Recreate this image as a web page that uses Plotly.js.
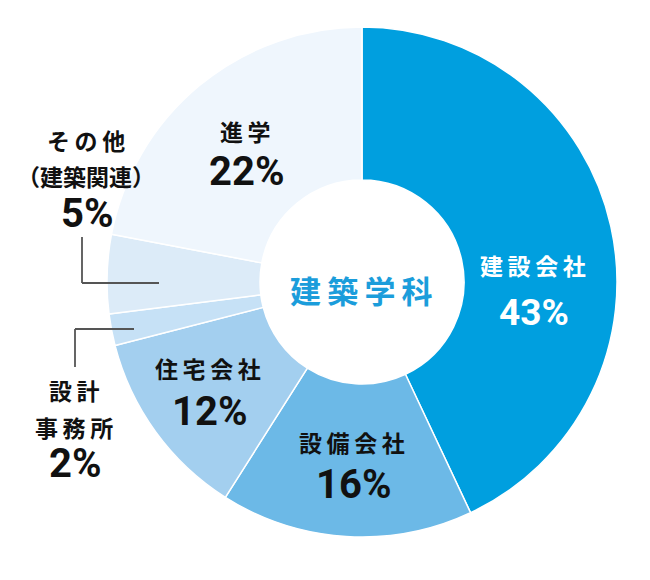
<!DOCTYPE html>
<html>
<head>
<meta charset="utf-8">
<script src="https://cdn.plot.ly/plotly-3.0.1.min.js"></script>
<style>
html,body{margin:0;padding:0;background:#fff;}
#chart{width:650px;height:580px;}
</style>
</head>
<body>
<div id="chart"></div>
<script>
// ---- data ----
const categories = ["建設会社", "設備会社", "住宅会社", "設計事務所", "その他（建築関連）", "進学"];
const values = [43, 16, 12, 2, 5, 22];
const labelLines = [["建設会社"], ["設備会社"], ["住宅会社"], ["設計", "事務所"], ["その他", "（建築関連）"], ["進学"]];
const sliceColors = ["#009fdf", "#6cb9e7", "#a3cfef", "#c6e1f6", "#dcebf8", "#eff6fd"];
const centerTitle = "建築学科";

// ---- layout helpers ----
const W = 650, H = 580;
const P = (px, py) => ({x: px / W, y: 1 - py / H});
const CJK = "'Noto Sans CJK JP', 'Noto Sans', sans-serif";
const NUM = "Roboto, 'Liberation Sans', sans-serif";
const spaced = s => /[（）]/.test(s) ? s : s.split("").join("\u2009");

// label positions (pixel centres)
const labelPos = [
  {x: 533, lines: [265], pct: 312, white: true},
  {x: 352, lines: [442], pct: 485},
  {x: 208, lines: [368], pct: 411},
  {x: 74,  lines: [390, 427], pct: 463},
  {x: 86,  lines: [140, 176], pct: 213},
  {x: 245, lines: [131], pct: 172}
];

const annotations = [];
categories.forEach((c, i) => {
  const pos = labelPos[i];
  const col = pos.white ? "#ffffff" : "#111111";
  labelLines[i].forEach((ln, j) => {
    const p = P(pos.x, pos.lines[j]);
    annotations.push({
      x: p.x, y: p.y, xref: "paper", yref: "paper", showarrow: false,
      xanchor: "center", yanchor: "middle",
      text: "<b>" + spaced(ln) + "</b>",
      font: {family: CJK, size: 23, color: col}
    });
  });
  const pp = P(pos.x + 1, pos.pct);
  annotations.push({
    x: pp.x, y: pp.y, xref: "paper", yref: "paper", showarrow: false,
    xanchor: "center", yanchor: "middle",
    text: "<b>" + values[i] + "%</b>",
    font: {family: NUM, size: pos.white ? 37 : 40, color: col}
  });
});
const cp = P(361, 289);
annotations.push({
  x: cp.x, y: cp.y, xref: "paper", yref: "paper", showarrow: false,
  xanchor: "center", yanchor: "middle",
  text: "<b>" + spaced(centerTitle) + "</b>",
  font: {family: CJK, size: 31, color: "#1b9ddb"}
});

// leader lines
const lineStyle = {color: "#555555", width: 1.8};
const seg = (a, b, c, d) => {
  const p1 = P(a, b), p2 = P(c, d);
  return {type: "line", xref: "paper", yref: "paper", x0: p1.x, y0: p1.y, x1: p2.x, y1: p2.y, line: lineStyle, layer: "above"};
};
const shapes = [
  seg(82, 237, 82, 283), seg(82, 283, 159, 283),
  seg(75, 329, 75, 367), seg(75, 329, 134, 329)
];

// pie geometry: centre (362,282), radius 255
const cx = 362, cy = 282, R = 255;
const trace = {
  type: "pie",
  labels: categories,
  values: values,
  sort: false,
  direction: "clockwise",
  rotation: 0,
  hole: 0.4,
  textinfo: "none",
  hoverinfo: "label+percent",
  marker: {colors: sliceColors, line: {color: "#ffffff", width: 1.5}},
  domain: {x: [(cx - R) / W, (cx + R) / W], y: [1 - (cy + R) / H, 1 - (cy - R) / H]}
};

Plotly.newPlot("chart", [trace], {
  width: W, height: H,
  margin: {l: 0, r: 0, t: 0, b: 0},
  showlegend: false,
  paper_bgcolor: "#ffffff",
  annotations: annotations,
  shapes: shapes
}, {displayModeBar: false, staticPlot: true});
</script>
</body>
</html>
